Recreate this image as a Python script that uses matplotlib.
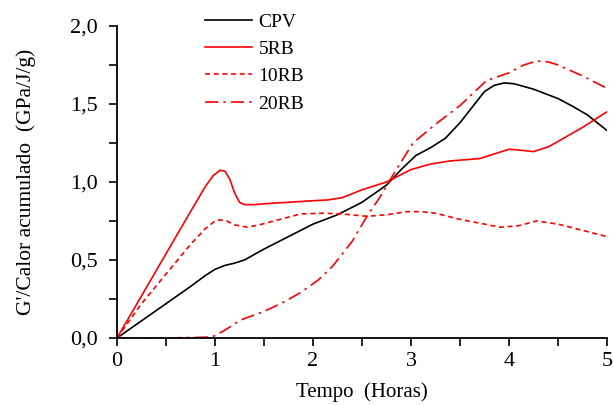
import numpy as np
import matplotlib
matplotlib.use('Agg')
import matplotlib.pyplot as plt
from matplotlib.ticker import MultipleLocator, FuncFormatter

# data (time in hours, G'/heat in GPa/J/g)
hours_cpv = [0, 0.25, 0.5, 0.75, 0.9, 1.0, 1.1, 1.2, 1.3, 1.5, 1.75, 2.0, 2.25, 2.5, 2.75, 2.9, 3.05, 3.2, 3.35, 3.5, 3.65, 3.75, 3.85, 3.95, 4.05, 4.25, 4.5, 4.65, 4.8, 4.9, 5.0]
cpv = [0, 0.11, 0.22, 0.33, 0.4, 0.44, 0.465, 0.48, 0.5, 0.57, 0.65, 0.73, 0.79, 0.87, 0.98, 1.08, 1.17, 1.22, 1.28, 1.38, 1.5, 1.58, 1.62, 1.635, 1.63, 1.595, 1.535, 1.485, 1.43, 1.38, 1.33]

hours_5rb = [0, 0.25, 0.5, 0.75, 0.9, 0.98, 1.05, 1.1, 1.15, 1.2, 1.25, 1.3, 1.4, 1.6, 1.75, 2.0, 2.15, 2.3, 2.5, 2.75, 3.0, 3.2, 3.4, 3.7, 3.85, 4.0, 4.1, 4.25, 4.4, 4.5, 4.75, 5.0]
rb5 = [0, 0.27, 0.54, 0.81, 0.97, 1.04, 1.075, 1.07, 1.02, 0.93, 0.87, 0.855, 0.855, 0.865, 0.87, 0.88, 0.885, 0.9, 0.95, 1.0, 1.08, 1.115, 1.135, 1.15, 1.18, 1.21, 1.205, 1.195, 1.225, 1.26, 1.35, 1.45]

hours_10rb = [0, 0.25, 0.5, 0.75, 0.9, 1.0, 1.05, 1.12, 1.2, 1.33, 1.45, 1.6, 1.87, 2.1, 2.3, 2.55, 2.75, 2.96, 3.1, 3.25, 3.5, 3.75, 3.91, 4.1, 4.28, 4.5, 4.75, 5.0]
rb10 = [0, 0.22, 0.41, 0.6, 0.7, 0.75, 0.757, 0.75, 0.725, 0.71, 0.725, 0.75, 0.795, 0.8, 0.795, 0.78, 0.79, 0.81, 0.81, 0.8, 0.76, 0.73, 0.71, 0.72, 0.75, 0.73, 0.69, 0.65]

hours_20rb = [0, 0.5, 0.9, 0.98, 1.1, 1.26, 1.5, 1.7, 1.87, 2.05, 2.2, 2.4, 2.55, 2.68, 2.85, 3.02, 3.25, 3.5, 3.77, 4.0, 4.15, 4.28, 4.4, 4.5, 4.75, 5.0]
rb20 = [0, 0.0, 0.005, 0.01, 0.05, 0.115, 0.17, 0.23, 0.29, 0.37, 0.46, 0.62, 0.78, 0.9, 1.08, 1.25, 1.37, 1.49, 1.65, 1.7, 1.75, 1.775, 1.77, 1.75, 1.68, 1.6]

plt.rcParams['font.family'] = 'Liberation Serif'

fig = plt.figure(figsize=(6.13, 4.05), dpi=100)
ax = fig.add_axes([117 / 613, 67 / 405, 490 / 613, 312 / 405])

RED = '#ff0000'
ax.plot(hours_cpv, cpv, color='black', lw=1.2, label='CPV')
ax.plot(hours_5rb, rb5, color=RED, lw=1.2, label='5RB')
ax.plot(hours_10rb, rb10, color=RED, lw=1.2, dashes=(3, 2.2), label='10RB')
ax.plot(hours_20rb, rb20, color=RED, lw=1.2, dashes=(8, 3, 1.5, 3), label='20RB')

ax.set_xlim(0, 5)
ax.set_ylim(0, 2.0)
ax.xaxis.set_major_locator(MultipleLocator(1))
ax.xaxis.set_minor_locator(MultipleLocator(0.5))
ax.yaxis.set_major_locator(MultipleLocator(0.5))
ax.yaxis.set_minor_locator(MultipleLocator(0.25))
ax.yaxis.set_major_formatter(FuncFormatter(lambda v, p: f'{v:.1f}'.replace('.', ',')))

ax.tick_params(which='both', direction='out', width=1.2, labelsize=16)
ax.tick_params(which='major', length=6)
ax.tick_params(which='minor', length=6)
ax.tick_params(axis='x', pad=4)
ax.tick_params(axis='y', pad=8)

for side in ['top', 'right']:
    ax.spines[side].set_visible(False)
for side in ['left', 'bottom']:
    ax.spines[side].set_linewidth(1.3)

ax.set_xlabel('Tempo  (Horas)', fontsize=15, labelpad=8)
ax.set_ylabel("G'/Calor acumulado  (GPa/J/g)", fontsize=15.5, labelpad=24)

ax.legend(loc='upper left', bbox_to_anchor=(205 / 613, 1 - 13 / 405), bbox_transform=fig.transFigure,
          frameon=False, fontsize=14, handlelength=2.4, handletextpad=0.35, labelspacing=0.5,
          borderpad=0, borderaxespad=0)

fig.savefig('out.png', dpi=100)
